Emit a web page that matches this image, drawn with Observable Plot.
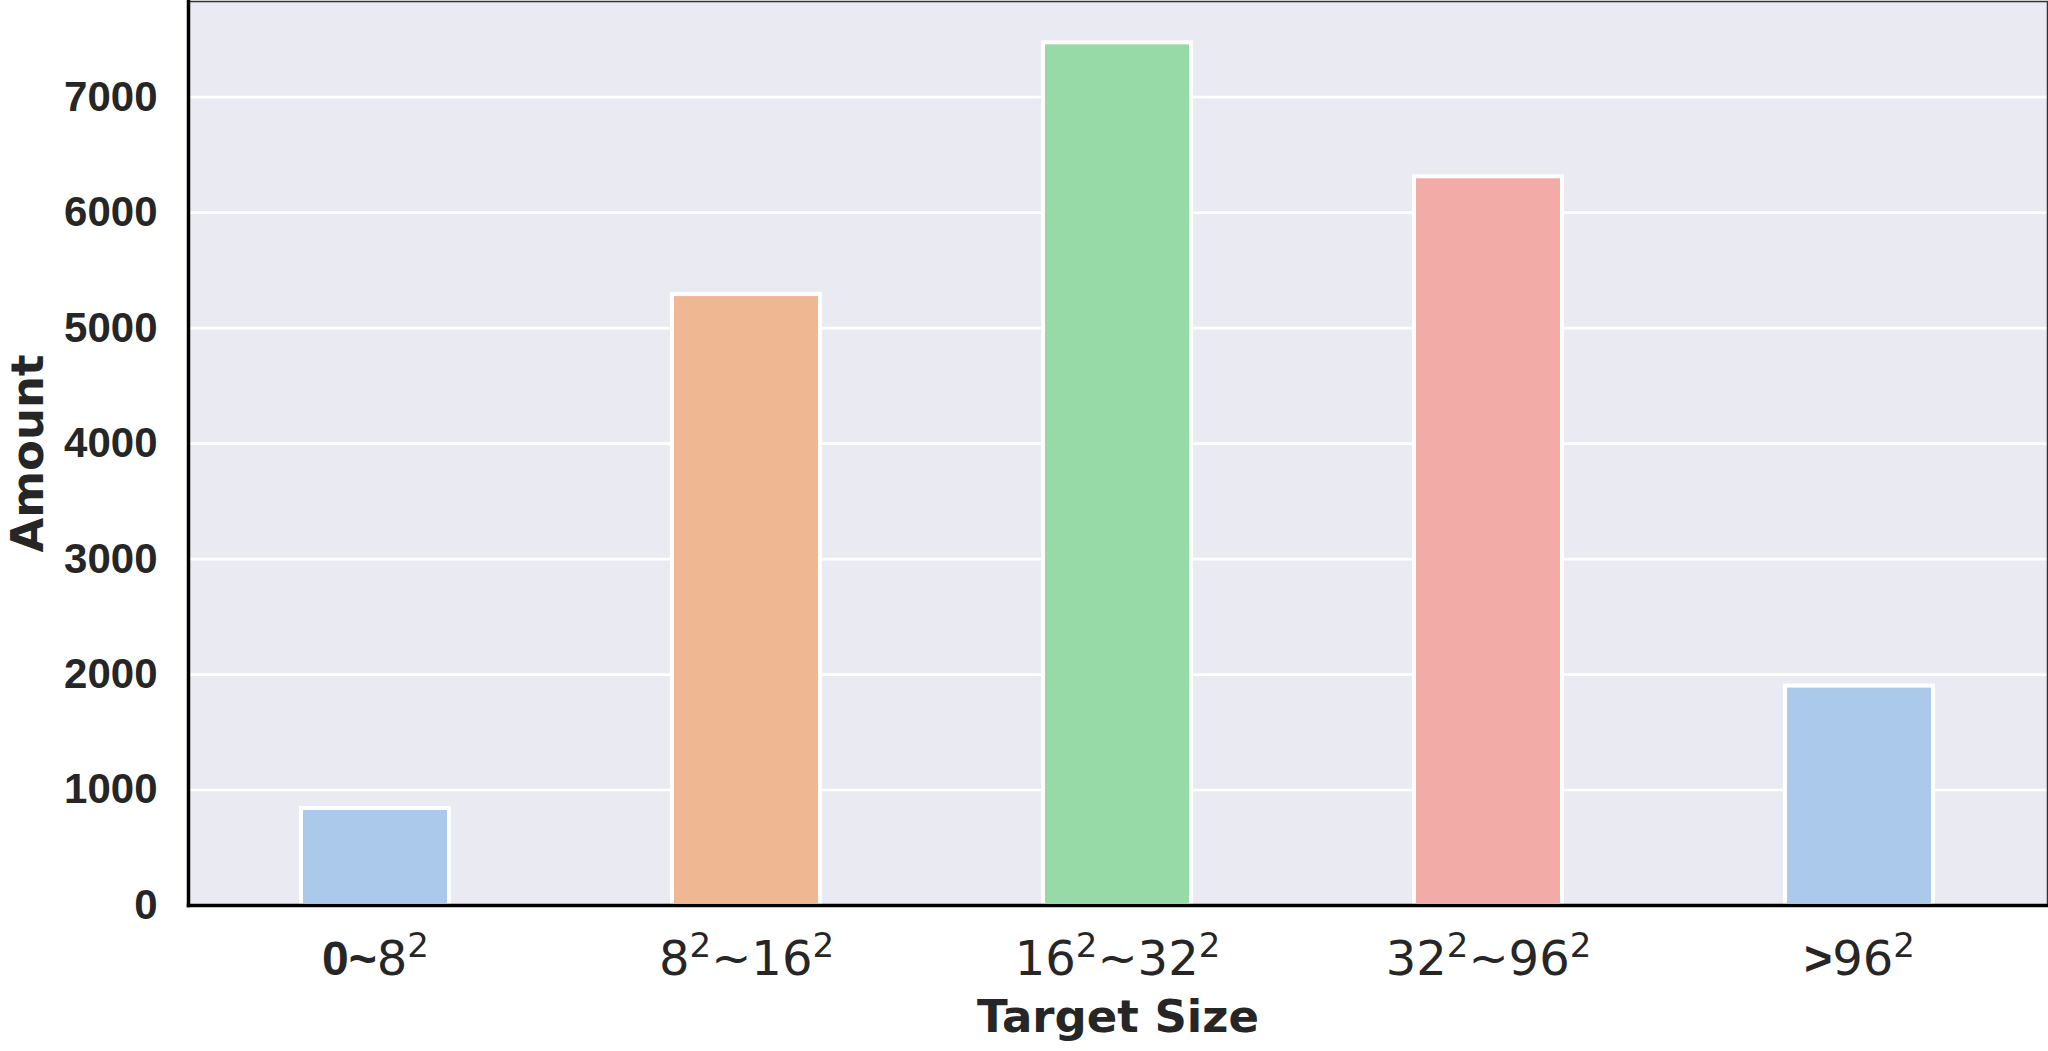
<!DOCTYPE html>
<html>
<head>
<meta charset="utf-8">
<script src="https://cdn.jsdelivr.net/npm/d3@7"></script>
<script src="https://cdn.jsdelivr.net/npm/@observablehq/plot@0.6"></script>
<style>
  html, body { margin: 0; padding: 0; background: #ffffff; }
  #chart { width: 2048px; height: 1051px; }
</style>
</head>
<body>
<div id="chart"></div>
<script>
const categories = ["0~8²", "8²~16²", "16²~32²", "32²~96²", ">96²"];
const amounts = [840, 5290, 7470, 6310, 1900];
const barColors = ["#abc9ea", "#efb792", "#98daa7", "#f3aba8", "#abc9ea"];
const yTicks = [0, 1000, 2000, 3000, 4000, 5000, 6000, 7000];
const boldPrefixes = ["0~", "", "", "", ">"];
const xTitle = "Target Size";
const yTitle = "Amount";

const data = categories.map((c, i) => ({size: c, amount: amounts[i]}));

const chart = Plot.plot({
  width: 2048,
  height: 1051,
  marginLeft: 188,
  marginRight: 1,
  marginTop: 1,
  marginBottom: 146,
  style: {fontFamily: "DejaVu Sans", background: "#ffffff", color: "#262626"},
  x: {domain: categories, paddingInner: 0.6, paddingOuter: 0.3, label: null},
  y: {domain: [0, 7828], label: null},
  color: {domain: categories, range: barColors},
  marks: [
    Plot.frame({fill: "#eaeaf2", stroke: null}),
    Plot.gridY(yTicks, {stroke: "#ffffff", strokeOpacity: 1, strokeWidth: 2.7}),
    Plot.barY(data, {x: "size", y: "amount", fill: "size", stroke: "#ffffff", strokeWidth: 4}),
    Plot.frame({stroke: "#333333", strokeWidth: 1.5}),
    Plot.frame({anchor: "left", stroke: "#000000", strokeWidth: 3.5}),
    Plot.frame({anchor: "bottom", stroke: "#000000", strokeWidth: 3.5}),
    Plot.axisY(yTicks, {
      tickSize: 0, tickPadding: 31, fontSize: 42, fontWeight: "bold",
      tickFormat: d3.format("d"),
      fontFamily: "Liberation Sans, Arial, sans-serif", fill: "#262626", label: null
    }),
    Plot.axisX({
      tickSize: 0, tickPadding: 35, fontSize: 48, fill: "#262626", label: null
    }),
    Plot.text([xTitle], {
      frameAnchor: "bottom", dy: 112, lineAnchor: "middle", textAnchor: "middle",
      fontSize: 45, fontWeight: "bold", fontFamily: "DejaVu Sans", fill: "#262626"
    }),
    Plot.text([yTitle], {
      frameAnchor: "left", dx: -160, rotate: -90, lineAnchor: "middle", textAnchor: "middle",
      fontSize: 45, fontWeight: "bold", fontFamily: "DejaVu Sans", fill: "#262626"
    })
  ]
});

document.getElementById("chart").appendChild(chart);

// Rebuild x tick labels with superscripts and bold prefixes
d3.select(chart).selectAll('g[aria-label="x-axis tick label"] text').each(function() {
  const t = d3.select(this);
  const label = t.text();
  const i = categories.indexOf(label);
  const nBold = i >= 0 ? boldPrefixes[i].length : 0;
  t.text(null);
  let raised = false;
  Array.from(label).forEach((ch, k) => {
    const span = t.append("tspan");
    if (ch === "²") {
      span.text("2").attr("font-size", 34).attr("dy", raised ? 0 : -18);
      raised = true;
    } else {
      span.text(ch).attr("dy", raised ? 18 : 0);
      raised = false;
      if (k < nBold) {
        span.attr("font-weight", "bold").attr("font-family", "Liberation Sans, Arial, sans-serif");
      }
    }
  });
});
</script>
</body>
</html>
